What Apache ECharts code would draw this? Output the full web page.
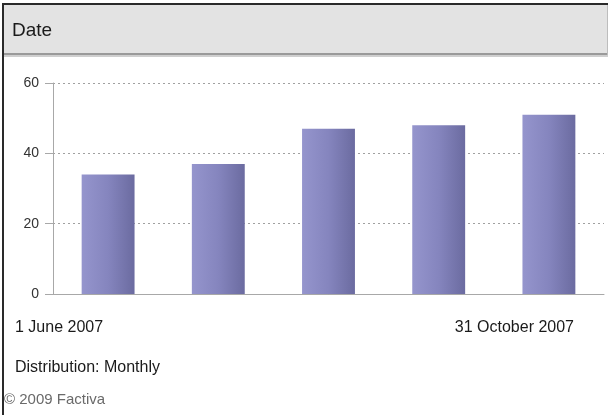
<!DOCTYPE html>
<html>
<head>
<meta charset="utf-8">
<script src="https://cdn.jsdelivr.net/npm/echarts@6/dist/echarts.min.js"></script>
<style>
  html, body { margin: 0; padding: 0; background: #fff; }
  #chart { width: 609px; height: 415px; }
</style>
</head>
<body>
<div id="chart"></div>
<script>
// Monthly article counts, June to October 2007
const months = ['Jun 2007', 'Jul 2007', 'Aug 2007', 'Sep 2007', 'Oct 2007'];
const counts = [34, 37, 47, 48, 51];
const yTicks = [0, 20, 40, 60];

const headerTitle = 'Date';
const startLabel = '1 June 2007';
const endLabel = '31 October 2007';
const distributionLabel = 'Distribution: Monthly';
const copyrightLabel = '\u00A9 2009 Factiva';

const chart = echarts.init(document.getElementById('chart'), null, { renderer: 'canvas' });

const barFill = new echarts.graphic.LinearGradient(0, 0, 1, 0, [
  { offset: 0, color: '#9595cd' },
  { offset: 0.5, color: '#8585be' },
  { offset: 1, color: '#6b6ba0' }
]);

const font = 'Arial, "Liberation Sans", sans-serif';

function label(text, x, y, size, color, align) {
  return {
    type: 'text', x: x, y: y, silent: true,
    style: {
      text: text, fontSize: size, fontFamily: font, fill: color,
      align: align || 'left', verticalAlign: 'middle'
    }
  };
}

chart.setOption({
  animation: false,
  backgroundColor: '#ffffff',
  grid: { left: 53, right: 5, top: 83, bottom: 121, containLabel: false },
  xAxis: {
    type: 'category',
    data: months,
    axisLine: { show: true, lineStyle: { color: '#a8a8a8', width: 1 } },
    axisTick: { show: false },
    axisLabel: { show: false },
    splitLine: { show: false }
  },
  yAxis: {
    type: 'value',
    min: yTicks[0],
    max: yTicks[yTicks.length - 1],
    interval: yTicks[1] - yTicks[0],
    axisLine: { show: true, lineStyle: { color: '#a8a8a8', width: 1 } },
    axisTick: { show: true, length: 8, lineStyle: { color: '#a8a8a8' } },
    axisLabel: { color: '#333', fontSize: 14, fontFamily: font, margin: 14 },
    splitLine: { show: true, lineStyle: { color: '#a0a0a0', type: [2, 3], width: 1 } }
  },
  series: [{
    type: 'bar',
    data: counts,
    barWidth: '48%',
    itemStyle: { color: barFill }
  }],
  graphic: [
    // header band
    { type: 'rect', shape: { x: 3, y: 4, width: 605, height: 50 }, style: { fill: '#e3e3e3' }, silent: true },
    { type: 'rect', shape: { x: 3, y: 53, width: 605, height: 2 }, style: { fill: '#9a9a9a' }, silent: true },
    { type: 'rect', shape: { x: 3, y: 55, width: 605, height: 2 }, style: { fill: '#cfcfcf' }, silent: true },
    // frame
    { type: 'rect', shape: { x: 2, y: 3, width: 606, height: 2 }, style: { fill: '#2a2a2a' }, silent: true },
    { type: 'rect', shape: { x: 2, y: 3, width: 2, height: 412 }, style: { fill: '#2a2a2a' }, silent: true },
    { type: 'rect', shape: { x: 607, y: 5, width: 1, height: 50 }, style: { fill: '#bdbdbd' }, silent: true },
    label(headerTitle, 12, 31, 19, '#1a1a1a'),
    label(startLabel, 15, 328, 16, '#1a1a1a'),
    label(endLabel, 574, 328, 16, '#1a1a1a', 'right'),
    label(distributionLabel, 15, 368, 16, '#1a1a1a'),
    label(copyrightLabel, 4, 400, 15, '#6a6a6a')
  ]
});
</script>
</body>
</html>
